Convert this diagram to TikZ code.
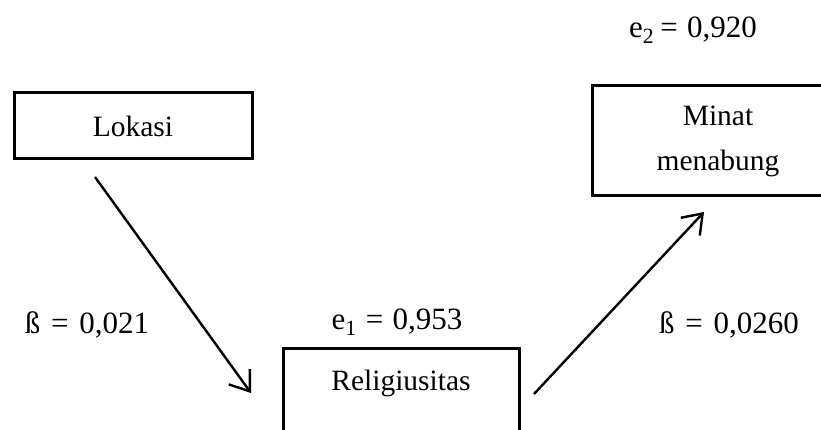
\documentclass[tikz,border=0pt]{standalone}
\usepackage{fontspec}
\setmainfont{Liberation Serif}
\usetikzlibrary{arrows.meta}
\tikzset{
  box/.style={draw=black, line width=3pt, inner sep=0pt},
  lbl/.style={inner sep=0pt, font=\fontsize{29.5}{45}\selectfont},
  num/.style={inner sep=0pt, font=\fontsize{31}{38}\selectfont},
  arr/.style={line width=2.4pt, -{Straight Barb[length=18pt,width=26pt,line width=2.4pt]}}
}
\begin{document}
\begin{tikzpicture}[x=1pt,y=-1pt]
\useasboundingbox (0,0) rectangle (821,430);
\clip (0,0) rectangle (821,430);
\node[box, minimum width=238pt, minimum height=66pt] (lok) at (133,126) {};
\node[lbl] (loktext) at (133,126) {Lokasi};
\node[box, minimum width=252pt, minimum height=110pt] (minat) at (718,141) {};
\node[lbl, align=center] (minattext) at (718,141) {Minat\\menabung};
\node[box, minimum width=236pt, minimum height=110pt] (rel) at (401,403) {};
\node[lbl] (reltext) at (401,383) {Religiusitas};
\node[num] (e2) at (693,30) {e\textsubscript{2}\hspace{0.2em}=\hspace{0.3em}0,920};
\node[num] (e1) at (397,322) {e\textsubscript{1}\hspace{0.3em}=\hspace{0.3em}0,953};
\node[num] (b1) at (87,325) {ß\hspace{0.35em}=\hspace{0.35em}0,021};
\node[num] (b2) at (729,325) {ß\hspace{0.35em}=\hspace{0.35em}0,0260};
\coordinate (a1s) at (95,177);
\coordinate (a1e) at (251,393);
\coordinate (a2s) at (534,394);
\coordinate (a2e) at (704,212);
\draw[arr] (a1s) -- (a1e);
\draw[arr] (a2s) -- (a2e);
\end{tikzpicture}
\end{document}
